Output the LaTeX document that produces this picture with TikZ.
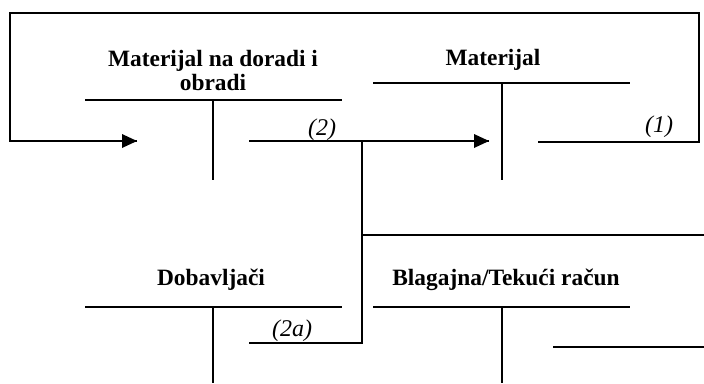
\documentclass[tikz,border=0pt]{standalone}
\usepackage{fontspec}
\setmainfont{Liberation Serif}
\usepackage{tikz}
\begin{document}
\begin{tikzpicture}[x=1pt,y=-1pt,line width=1.8pt]
\tikzstyle{every node}+=[inner sep=0pt]
\tikzstyle{title}=[font=\fontsize{23.4}{24}\selectfont\bfseries,align=center,anchor=base]
\tikzstyle{lbl}=[font=\fontsize{24}{26}\selectfont\itshape,anchor=base]
\useasboundingbox (0,0) rectangle (704,383);
% T-accounts
\node [title] (mdo) at (213,90) {Materijal na doradi i\\obradi};
\coordinate (mdoL) at (85,100); \coordinate (mdoR) at (342,100);
\coordinate (mdoT) at (213,100); \coordinate (mdoB) at (213,180);
\draw [black] (mdoL) -- (mdoR);
\draw [black] (mdoT) -- (mdoB);
\node [title] (mat) at (493,65) {Materijal};
\coordinate (matL) at (373,83); \coordinate (matR) at (630,83);
\coordinate (matT) at (502,83); \coordinate (matB) at (502,180);
\draw [black] (matL) -- (matR);
\draw [black] (matT) -- (matB);
\node [title] (dob) at (211,285) {Dobavljači};
\coordinate (dobL) at (85,307); \coordinate (dobR) at (342,307);
\coordinate (dobT) at (213,307); \coordinate (dobB) at (213,383);
\draw [black] (dobL) -- (dobR);
\draw [black] (dobT) -- (dobB);
\node [title] (bla) at (506,285) {Blagajna/Tekući račun};
\coordinate (blaL) at (373,307); \coordinate (blaR) at (630,307);
\coordinate (blaT) at (502,307); \coordinate (blaB) at (502,383);
\draw [black] (blaL) -- (blaR);
\draw [black] (blaT) -- (blaB);
% (1) back to Materijal na doradi i obradi
\coordinate (p1s) at (538,142); \coordinate (p1a) at (699,142);
\coordinate (p1b) at (699,13); \coordinate (p1c) at (10,13);
\coordinate (p1d) at (10,141); \coordinate (p1e) at (137,141);
\draw [black] (p1s) -- (p1a) -- (p1b) -- (p1c) -- (p1d) -- (p1e);
\fill [black] (p1e) -- ++(-15,-7) -- ++(0,14) -- cycle;
\node [lbl] (l1) at (659,132) {(1)};
% (2) into Materijal
\coordinate (p2s) at (249,141); \coordinate (p2e) at (489,141);
\coordinate (p2j) at (362,141);
\draw [black] (p2s) -- (p2e);
\fill [black] (p2e) -- ++(-15,-7) -- ++(0,14) -- cycle;
\node [lbl] (l2) at (322,135) {(2)};
% (2a) Dobavljaci
\coordinate (p2m) at (362,235); \coordinate (p2r) at (704,235);
\coordinate (p2b) at (362,343); \coordinate (p2a) at (249,343);
\draw [black] (p2j) -- (p2b) -- (p2a);
\draw [black] (p2m) -- (p2r);
\node [lbl] (l2a) at (292,336) {(2a)};
% Blagajna
\coordinate (p3s) at (553,347); \coordinate (p3e) at (704,347);
\draw [black] (p3s) -- (p3e);
\end{tikzpicture}
\end{document}
